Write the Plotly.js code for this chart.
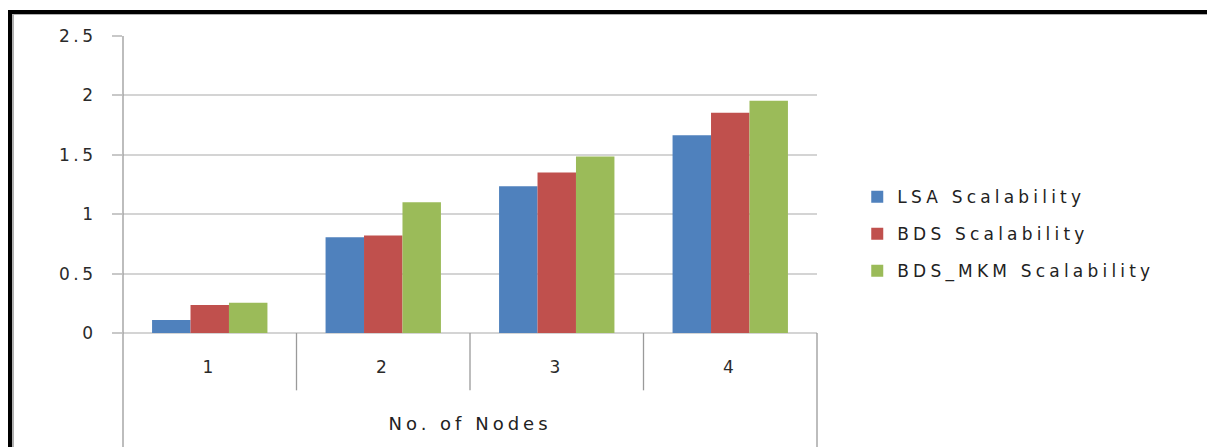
<!DOCTYPE html>
<html>
<head>
<meta charset="utf-8">
<script src="https://cdn.plot.ly/plotly-3.0.1.min.js"></script>
<style>
  html, body { margin: 0; padding: 0; background: #fff; }
  #wrap { position: relative; width: 1207px; height: 447px; overflow: hidden; }
  #chart { position: absolute; left: 0; top: 0; width: 1207px; height: 447px; }
  #frame { position: absolute; left: 8px; top: 10px; right: -10px; bottom: -10px;
           border-top: 4px solid #000; border-left: 4px solid #000; pointer-events: none; }
  #frame2 { position: absolute; left: 0; top: 0; right: 0; bottom: 0;
            border-top: 1px solid #b0b0b0; border-left: 2px solid #b0b0b0; }
  .ytick text, .xtick text { letter-spacing: 3.5px; }
  .legendtext { letter-spacing: 4.2px; }
  .xtitle { letter-spacing: 4px; }
</style>
</head>
<body>
<div id="wrap">
  <div id="chart"></div>
  <div id="frame"><div id="frame2"></div></div>
</div>
<script>
const categories = ['1', '2', '3', '4'];
const seriesNames = ['LSA Scalability', 'BDS Scalability', 'BDS_MKM Scalability'];
const lsaValues = [0.11, 0.805, 1.235, 1.665];
const bdsValues = [0.235, 0.82, 1.35, 1.855];
const bdsMkmValues = [0.255, 1.10, 1.485, 1.955];
const yTickVals = [0, 0.5, 1, 1.5, 2, 2.5];
const yTickText = ['0', '0.5', '1', '1.5', '2', '2.5'];
const colors = ['#4F81BD', '#C0504D', '#9BBB59'];
const xTitle = 'No. of Nodes';

const allValues = [lsaValues, bdsValues, bdsMkmValues];
const traces = allValues.map((vals, i) => ({
  type: 'bar',
  name: seriesNames[i],
  x: categories,
  y: vals,
  legendgroup: 'g' + i,
  marker: { color: colors[i], line: { width: 0 } },
  hoverinfo: 'x+y+name'
}));

const lineColor = '#9a9a9a';
const shapes = [];
// category dividers
for (let i = 0; i < categories.length - 1; i++) {
  shapes.push({ type: 'line', xref: 'x', yref: 'paper', x0: i + 0.5, x1: i + 0.5,
    y0: 0, y1: -0.193, line: { color: lineColor, width: 1.3 } });
}
// right outer divider and left axis line extending to bottom
shapes.push({ type: 'line', xref: 'paper', yref: 'paper', x0: 1, x1: 1, y0: 0, y1: -0.4,
  line: { color: lineColor, width: 1.3 } });
shapes.push({ type: 'line', xref: 'paper', yref: 'paper', x0: 0, x1: 0, y0: 1, y1: -0.4,
  line: { color: lineColor, width: 1.3 } });

const layout = {
  width: 1207, height: 447,
  margin: { l: 123, r: 390, t: 36, b: 114 },
  paper_bgcolor: '#fff', plot_bgcolor: '#fff',
  font: { family: 'DejaVu Sans, Verdana, sans-serif', color: '#333', size: 16 },
  barmode: 'group', bargap: 0.335, bargroupgap: 0,
  showlegend: true,
  legend: {
    x: 1.058, xanchor: 'left', y: 0.333, yanchor: 'middle',
    font: { size: 17, color: '#222' }, tracegroupgap: 12,
    itemwidth: 30, bgcolor: 'rgba(0,0,0,0)'
  },
  xaxis: {
    type: 'category', categoryorder: 'array', categoryarray: categories,
    showgrid: false, showline: false, zeroline: false, ticks: '',
    ticklabelstandoff: 22,
    tickfont: { size: 17, color: '#2a2a2a' },
    title: { text: xTitle, font: { size: 18, color: '#222' }, standoff: 41 },
    automargin: false, fixedrange: true
  },
  yaxis: {
    range: [0, 2.5], tickvals: yTickVals, ticktext: yTickText,
    showgrid: true, gridcolor: '#d4d4d4', gridwidth: 2,
    zeroline: true, zerolinecolor: '#d4d4d4', zerolinewidth: 2,
    showline: false, ticks: 'outside', ticklen: 10, tickcolor: '#c8c8c8', tickwidth: 2,
    tickfont: { size: 17, color: '#2a2a2a' }, ticklabelstandoff: 12,
    automargin: false, fixedrange: true
  },
  shapes: shapes
};

Plotly.newPlot('chart', traces, layout, { displayModeBar: false, staticPlot: true });
</script>
</body>
</html>
